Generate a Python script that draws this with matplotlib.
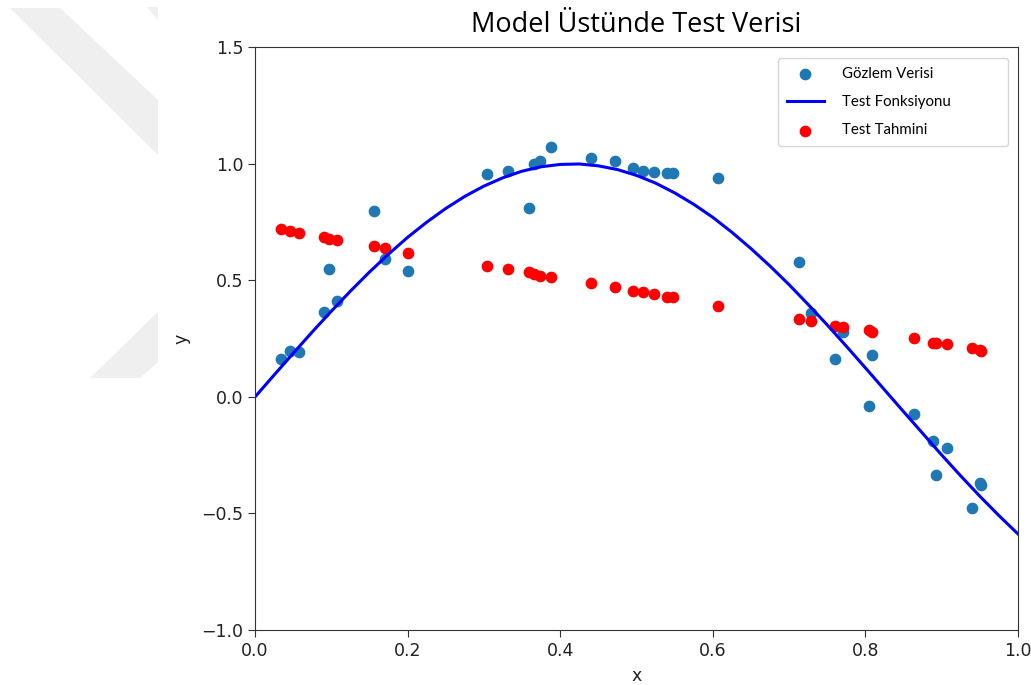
import matplotlib
matplotlib.use("Agg")
import matplotlib.pyplot as plt
from matplotlib.patches import Polygon

# x positions of the test samples (shared by observations and predictions)
x_test = [0.034, 0.046, 0.058, 0.090, 0.097, 0.108, 0.156, 0.171, 0.200,
          0.304, 0.331, 0.359, 0.366, 0.374, 0.388, 0.440, 0.472, 0.496,
          0.508, 0.523, 0.540, 0.548, 0.607, 0.713, 0.729, 0.760, 0.770,
          0.805, 0.808, 0.864, 0.889, 0.892, 0.907, 0.940, 0.950, 0.952]

# observed (noisy) values
y_obs = [0.165, 0.197, 0.194, 0.365, 0.548, 0.411, 0.797, 0.592, 0.541,
         0.955, 0.968, 0.809, 1.001, 1.014, 1.073, 1.026, 1.013, 0.981,
         0.968, 0.967, 0.961, 0.961, 0.941, 0.581, 0.359, 0.163, 0.280,
         -0.039, 0.182, -0.072, -0.189, -0.335, -0.218, -0.478, -0.371, -0.378]

# model predictions
y_pred = [0.720, 0.714, 0.705, 0.685, 0.679, 0.672, 0.646, 0.639, 0.619,
          0.562, 0.548, 0.535, 0.529, 0.521, 0.516, 0.488, 0.471, 0.455,
          0.449, 0.443, 0.431, 0.431, 0.391, 0.333, 0.326, 0.306, 0.300,
          0.288, 0.280, 0.255, 0.233, 0.233, 0.227, 0.209, 0.202, 0.199]

# true test function
x_curve = [0.0, 0.025, 0.05, 0.075, 0.1, 0.125, 0.15, 0.175, 0.2, 0.225,
           0.25, 0.275, 0.3, 0.325, 0.35, 0.375, 0.4, 0.425, 0.45, 0.475,
           0.5, 0.525, 0.55, 0.575, 0.6, 0.625, 0.65, 0.675, 0.7, 0.725,
           0.75, 0.775, 0.8, 0.825, 0.85, 0.875, 0.9, 0.925, 0.95, 0.975, 1.0]
y_curve = [0.0, 0.094, 0.187, 0.279, 0.368, 0.454, 0.536, 0.613, 0.685, 0.750,
           0.809, 0.861, 0.905, 0.941, 0.969, 0.988, 0.998, 1.000, 0.992, 0.976,
           0.951, 0.918, 0.876, 0.827, 0.771, 0.707, 0.637, 0.562, 0.482, 0.397,
           0.309, 0.218, 0.125, 0.031, -0.063, -0.156, -0.249, -0.339, -0.426,
           -0.509, -0.588]

fig = plt.figure(figsize=(10.31, 6.85), dpi=100)
ax = fig.add_axes([0.2473, 0.0803, 0.7401, 0.8504])

# faint watermark shapes at the left edge
W, H = 1031.0, 685.0
def px(pts):
    return [(a / W, 1 - b / H) for a, b in pts]
for shape in ([(10, 8), (60, 8), (158, 100), (158, 155)],
              [(147, 7), (158, 7), (158, 20)],
              [(158, 312), (90, 378), (140, 378), (158, 362)]):
    fig.patches.append(Polygon(px(shape), closed=True, transform=fig.transFigure,
                               facecolor='#efefef', edgecolor='none', zorder=0))

ax.scatter(x_test, y_obs, s=55, color='#1f77b4', label='Gözlem Verisi')
ax.plot(x_curve, y_curve, color='blue', lw=2.2, label='Test Fonksiyonu')
ax.scatter(x_test, y_pred, s=55, color='red', label='Test Tahmini')

ax.set_xlim(0, 1)
ax.set_ylim(-1, 1.5)
ax.set_xticks([0.0, 0.2, 0.4, 0.6, 0.8, 1.0])
ax.set_yticks([-1.0, -0.5, 0.0, 0.5, 1.0, 1.5])
ax.tick_params(labelsize=12.5, length=5, color='#333333', labelcolor='#222222')
for sp in ax.spines.values():
    sp.set_color('#333333')

ax.set_xlabel('x', fontsize=12.5, labelpad=5, color='#222222')
ax.set_ylabel('y', fontsize=12.5, labelpad=8, color='#222222')
ax.set_title('Model Üstünde Test Verisi', fontsize=19.5, family='Open Sans', pad=11)

leg = ax.legend(loc='upper left', bbox_to_anchor=(0.685, 0.824, 0.302, 0.158),
                mode='expand', borderaxespad=0, prop={'family': 'Lato', 'size': 10.8},
                handlelength=2.5, handletextpad=1.2, labelspacing=0.95,
                borderpad=0.6, scatterpoints=1)

fig.savefig('out.png', dpi=100)
